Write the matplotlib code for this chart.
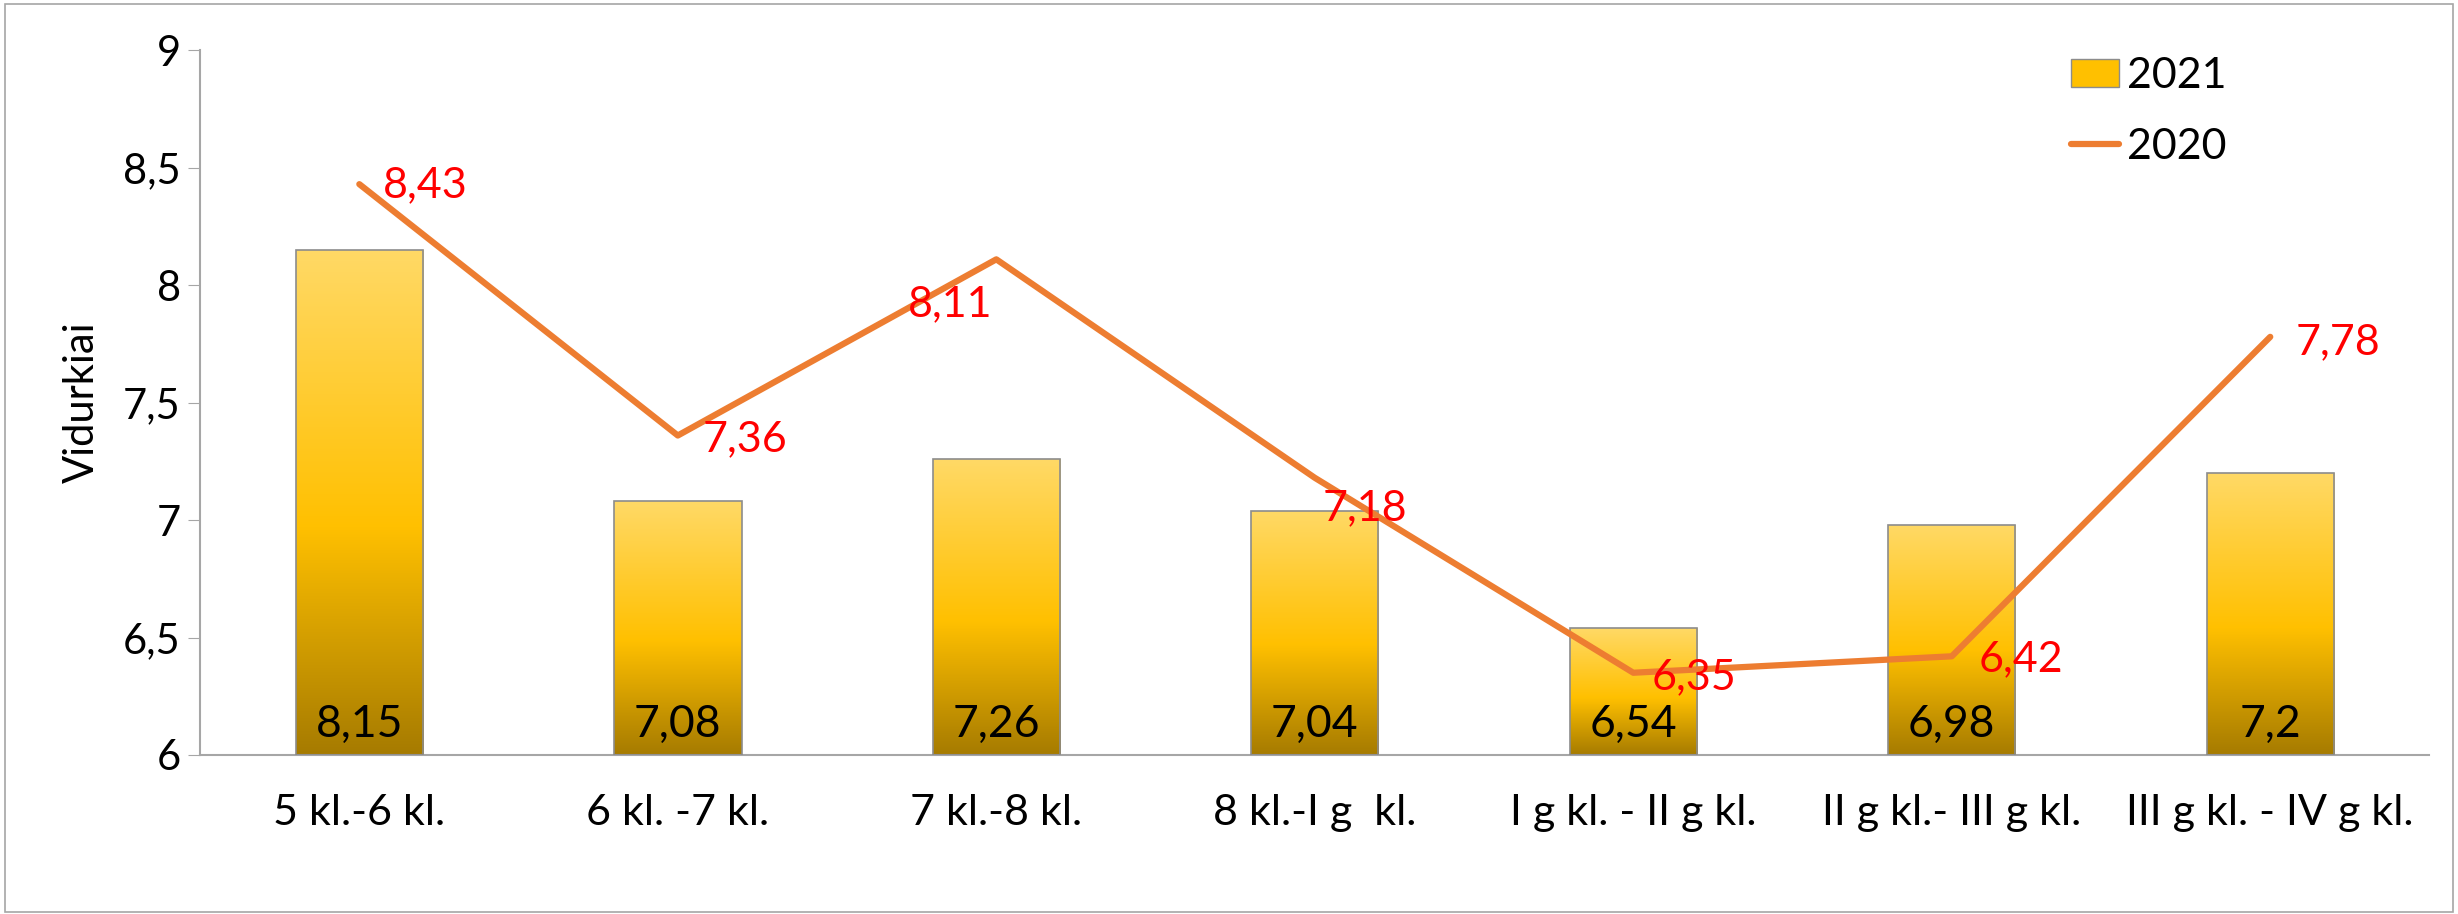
import numpy as np
import matplotlib
matplotlib.use("Agg")
from matplotlib import pyplot as plt
from matplotlib.colors import LinearSegmentedColormap
from matplotlib.patches import Rectangle, Patch
from matplotlib.ticker import FuncFormatter

categories = ["5 kl.-6 kl.", "6 kl. -7 kl.", "7 kl.-8 kl.", "8 kl.-I g  kl.",
              "I g kl. - II g kl.", "II g kl.- III g kl.", "III g kl. - IV g kl."]
values_2021 = [8.15, 7.08, 7.26, 7.04, 6.54, 6.98, 7.2]
values_2020 = [8.43, 7.36, 8.11, 7.18, 6.35, 6.42, 7.78]

# label offsets for the 2020 line (points)
line_label_offsets = [(17, -1), (18, -3), (-64, -32), (6, -22), (13, -3), (19, -2), (18, -4)]

plt.rcParams["font.family"] = ["Lato", "DejaVu Sans"]

fig = plt.figure(figsize=(24.58, 9.14), dpi=100)
ax = fig.add_axes([0.0814, 0.174, 0.907, 0.771])

fig.patches.append(Rectangle((0.002, 0.002), 0.996, 0.994, transform=fig.transFigure,
                             fill=False, edgecolor="#a6a6a6", linewidth=1.2))

x = np.arange(len(categories))
width = 0.4

grad_cmap = LinearSegmentedColormap.from_list(
    "gold", [(0.0, "#a67b00"), (0.45, "#ffc000"), (1.0, "#ffd966")])
grad = np.linspace(0, 1, 256).reshape(-1, 1)

bars = ax.bar(x, np.array(values_2021) - 6, width, bottom=6, color="none",
              edgecolor="#8c8c8c", linewidth=1.2, zorder=3)
for b in bars:
    x0, y0 = b.get_x(), b.get_y()
    im = ax.imshow(grad, cmap=grad_cmap, origin="lower", aspect="auto",
                   extent=[x0, x0 + b.get_width(), y0, y0 + b.get_height()], zorder=2)
    im.set_clip_path(b)

for xi, v in zip(x, values_2021):
    ax.annotate(f"{v:g}".replace(".", ","), (xi, 6), xytext=(0, 22),
                textcoords="offset points", ha="center", va="center",
                fontsize=32, color="black", zorder=5)

line, = ax.plot(x, values_2020, color="#ed7d31", linewidth=4.5, zorder=4,
                solid_capstyle="round")
for xi, v, off in zip(x, values_2020, line_label_offsets):
    ax.annotate(f"{v:g}".replace(".", ","), (xi, v), xytext=off,
                textcoords="offset points", ha="left", va="center",
                fontsize=31, color="red", zorder=5)

ax.set_xlim(-0.5, len(categories) - 0.5)
ax.set_ylim(6, 9)
ax.set_yticks(np.arange(6, 9.01, 0.5))
ax.yaxis.set_major_formatter(FuncFormatter(lambda v, p: f"{v:g}".replace(".", ",")))
ax.set_xticks(x)
ax.set_xticklabels(categories)
ax.tick_params(axis="y", labelsize=30, length=9, color="#a6a6a6", pad=5)
ax.tick_params(axis="x", labelsize=31, length=0, pad=28)
ax.set_ylabel("Vidurkiai", fontsize=30, labelpad=16)

for s in ["top", "right"]:
    ax.spines[s].set_visible(False)
for s in ["left", "bottom"]:
    ax.spines[s].set_color("#a6a6a6")
    ax.spines[s].set_linewidth(1.5)

bar_handle = Patch(facecolor="#ffc000", edgecolor="#8c8c8c")
ax.legend([bar_handle, line], ["2021", "2020"], loc="upper left",
          bbox_to_anchor=(0.822, 1.045), frameon=False, fontsize=31,
          handlelength=1.1, handleheight=0.6, labelspacing=0.75, handletextpad=0.2)

fig.savefig("out.png", dpi=100)
plt.close(fig)
